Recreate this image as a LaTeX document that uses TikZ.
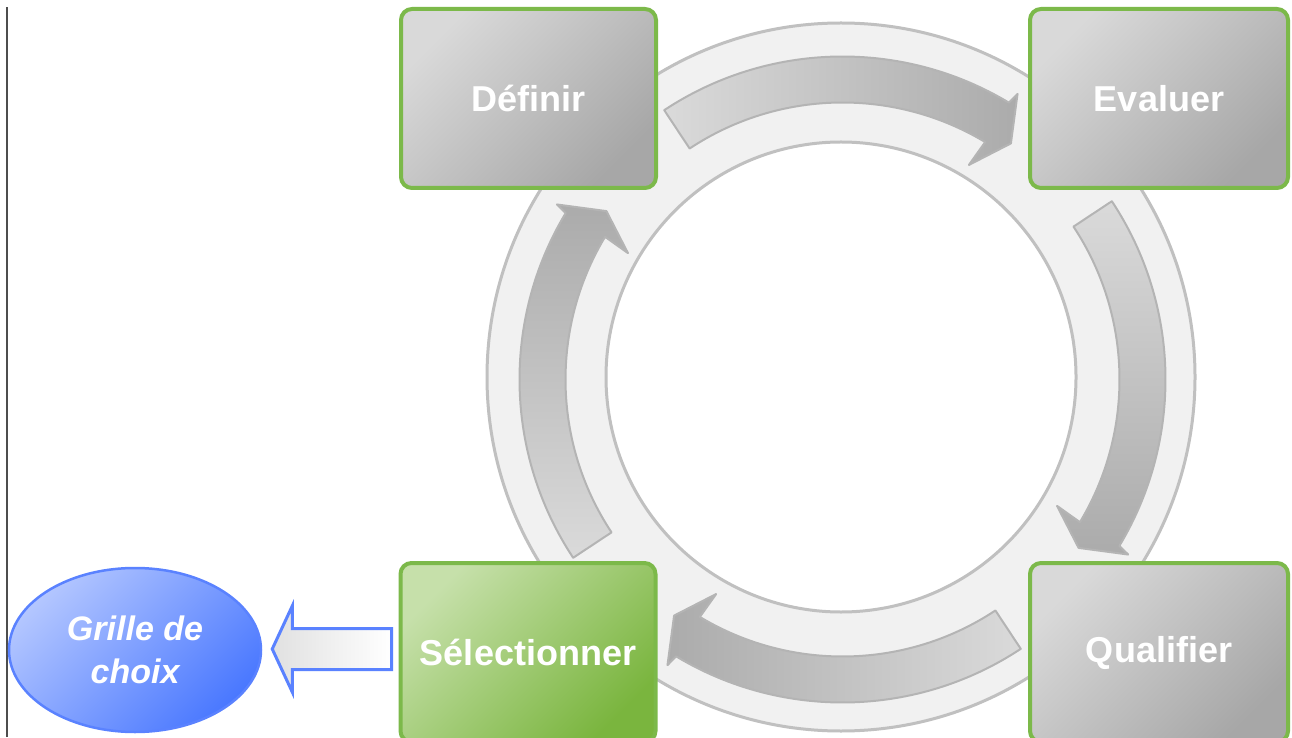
\documentclass[tikz,border=0pt]{standalone}
\usepackage{fontspec}
\setmainfont{Liberation Sans}
\usetikzlibrary{calc,shapes.geometric}

\definecolor{ringfill}{HTML}{F1F1F1}
\definecolor{ringline}{HTML}{C0C0C0}
\definecolor{arrowlight}{HTML}{DADADA}
\definecolor{arrowdark}{HTML}{ABABAB}
\definecolor{arrowline}{HTML}{B4B4B4}
\definecolor{stageedge}{HTML}{7CB94A}
\definecolor{greylight}{HTML}{D9D9D9}
\definecolor{greydark}{HTML}{A7A7A7}
\definecolor{greenlight}{HTML}{C6E0AA}
\definecolor{greendark}{HTML}{7AB53E}
\definecolor{bluelight}{HTML}{B3C6FF}
\definecolor{bluedark}{HTML}{4A78FF}
\definecolor{blueline}{HTML}{5A82FF}
\definecolor{edgegrey}{HTML}{4D4D4D}

\tikzset{
  stage/.style={rectangle, rounded corners=11pt, line width=4pt, draw=stageedge,
    minimum width=255pt, minimum height=179pt, text=white,
    font=\fontsize{36}{43}\selectfont\bfseries,
    top color=greylight, bottom color=greydark, shading angle=45},
  chosen/.style={top color=greenlight, bottom color=greendark, shading angle=45},
  choice/.style={ellipse, draw=blueline, line width=2.5pt, minimum width=252pt,
    minimum height=164pt, inner sep=0pt, align=center, text=white,
    font=\fontsize{34}{43}\selectfont\bfseries\itshape,
    top color=bluelight, bottom color=bluedark, shading angle=45},
  ringarrow/.style={draw=arrowline, line width=2pt, line join=round,
    top color=arrowlight, bottom color=arrowdark},
  outarrow/.style={draw=blueline, line width=3pt, line join=miter,
    left color=greylight!80, right color=white},
}

\begin{document}
\begin{tikzpicture}[x=1pt,y=1pt]
  \useasboundingbox (0,0) rectangle (1292,737);
  \fill[white] (0,0) rectangle (1292,737);
  \clip (0,0) rectangle (1292,737);

  % left margin rule
  \draw[edgegrey, line width=1.5pt] (7,0) -- (7,730);

  % the ring behind the cycle
  \coordinate (rc) at (841,360);
  \coordinate (ac) at (842.5,357.5);
  \fill[ringfill, even odd rule] (rc) circle[radius=354] (rc) circle[radius=235];
  \draw[ringline, line width=3pt] (rc) circle[radius=354] (rc) circle[radius=235];

  % four curved arrows, clockwise
  \foreach \rot/\sa in {0/90, 90/0, 180/-90, 270/180}{
    \path[ringarrow, shading angle=\sa, shift={(ac)}]
      (123.5-\rot:323) arc[start angle=123.5-\rot, end angle=59-\rot, radius=323]
      -- (58.5-\rot:335) -- (54.5-\rot:290) -- (59.5-\rot:249) -- (59-\rot:277)
      arc[start angle=59-\rot, end angle=123.5-\rot, radius=277] -- cycle;
  }

  % stages
  \node[stage] (def) at (528.5,638.5) {Définir};
  \node[stage, minimum width=258pt] (eva) at (1159,638.5) {Evaluer};
  \node[stage, minimum width=258pt] (qua) at (1159,84.5) {Qualifier};
  \node[stage, chosen] (sel) at (528,84.5) {Sélectionner};

  % output
  \node[choice] (grille) at (135,87) {Grille de\\choix};

  \coordinate (bt) at ($(grille.east)+(10,1)$);
  \coordinate (be) at ($(sel.west)+(-7,0)$);
  \draw[outarrow] let \p1=(bt), \p2=(be) in
    (\x1,\y1) -- (\x1+20pt,\y1+43pt) -- (\x1+20pt,\y1+20.5pt) -- (\x2,\y1+20.5pt)
    -- (\x2,\y1-20.5pt) -- (\x1+20pt,\y1-20.5pt) -- (\x1+20pt,\y1-43pt) -- cycle;
\end{tikzpicture}
\end{document}
